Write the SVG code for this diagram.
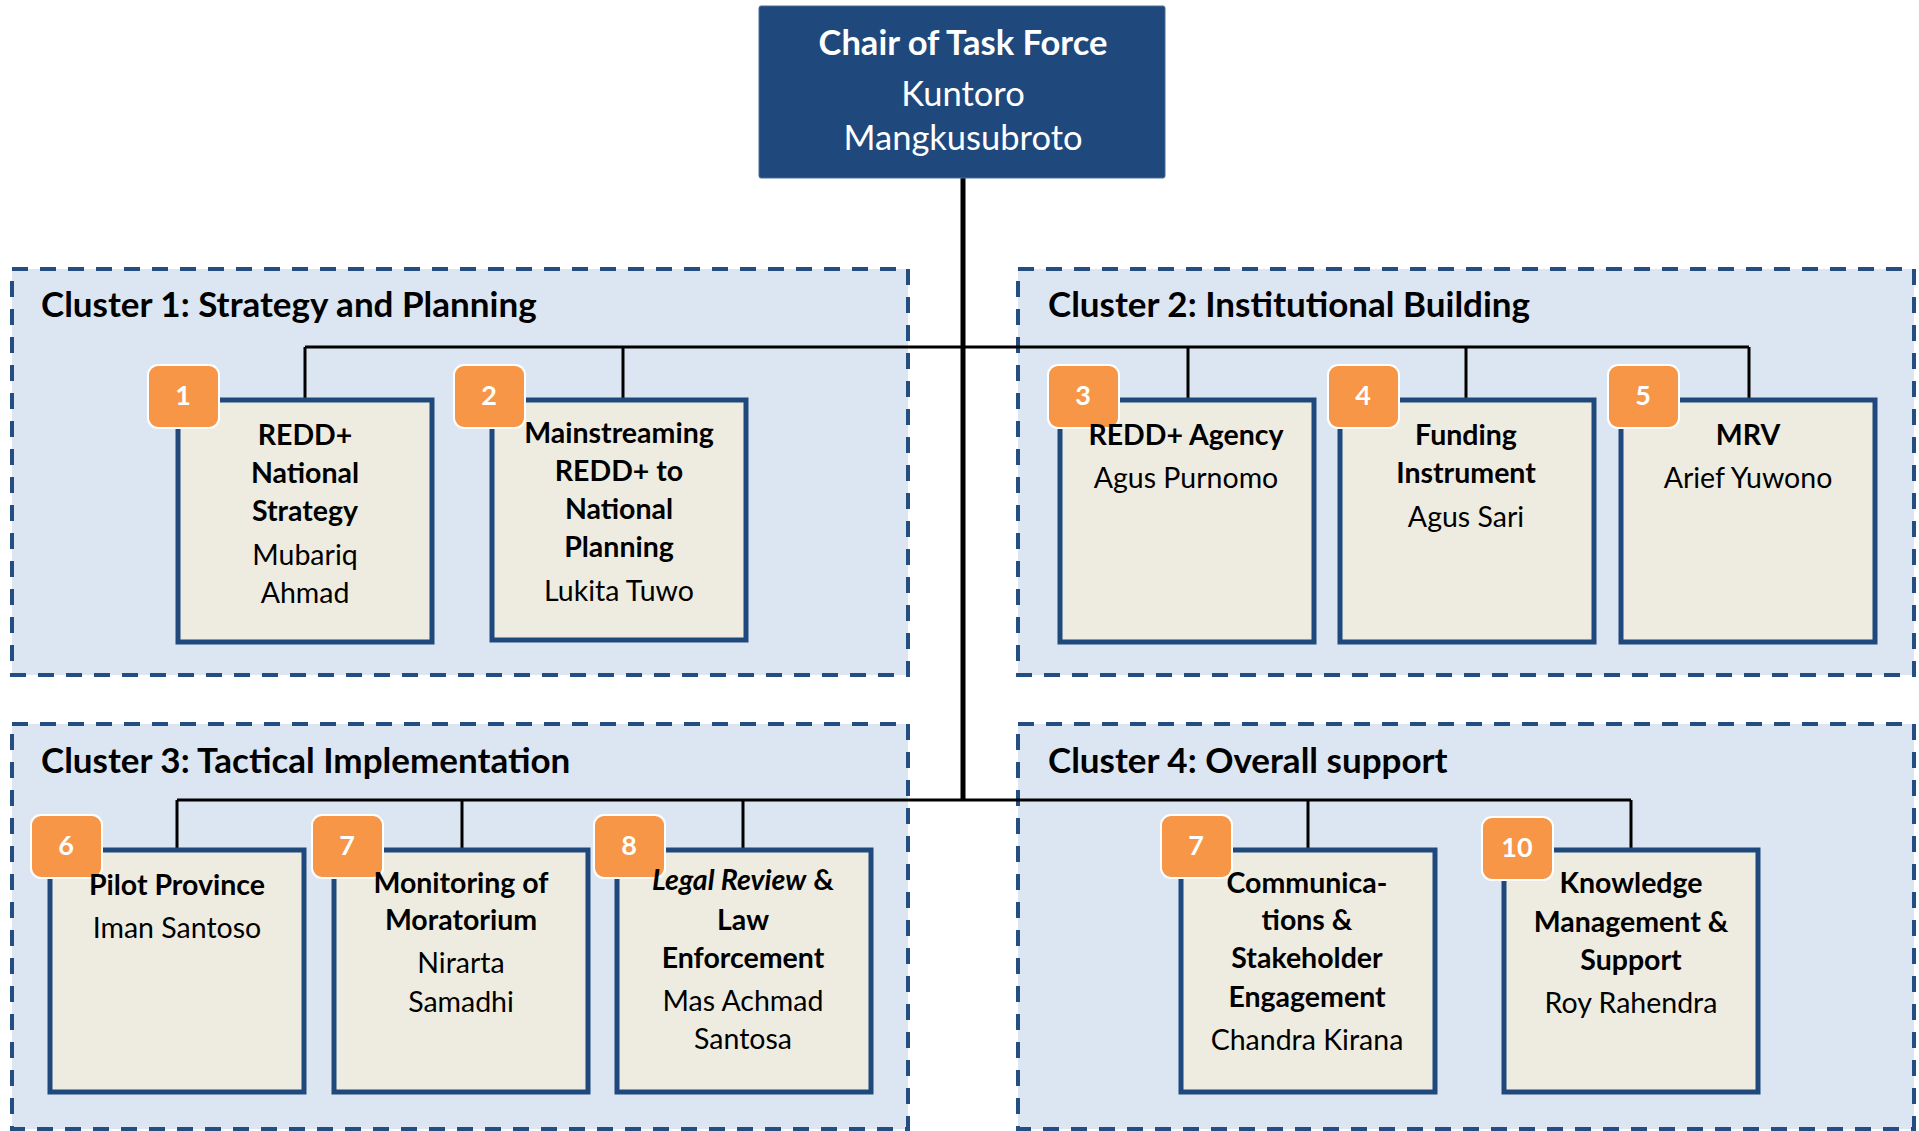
<svg xmlns="http://www.w3.org/2000/svg" width="1919" height="1131" viewBox="0 0 1919 1131">
<style>
.cluster{fill:#DCE6F2;stroke:#244E82;stroke-width:4;stroke-dasharray:16 12}
.ctitle{font-family:Lato,"Liberation Sans",sans-serif;font-weight:bold;font-size:35px;fill:#000}
.box{fill:#EEECE1;stroke:#1F497D;stroke-width:5}
.badge{fill:#F79646;stroke:#FFFFFF;stroke-width:2}
.num{font-family:Lato,"Liberation Sans",sans-serif;font-weight:bold;font-size:27px;fill:#FFFFFF;text-anchor:middle}
.b{font-family:Lato,"Liberation Sans",sans-serif;font-weight:bold;font-size:28.5px;fill:#000;text-anchor:middle}
.r{font-family:Lato,"Liberation Sans",sans-serif;font-size:28.5px;fill:#000;text-anchor:middle}
.thin{stroke:#000;stroke-width:3;fill:none}
.thick{stroke:#000;stroke-width:5;fill:none}
.chair{font-family:Lato,"Liberation Sans",sans-serif;font-size:34.5px;fill:#FFFFFF;text-anchor:middle}
</style>
<rect width="1919" height="1131" fill="#FFFFFF"/>
<g id="clusters">
<rect class="cluster" x="12" y="269" width="896" height="406"/>
<rect class="cluster" x="1018" y="269" width="896" height="406"/>
<rect class="cluster" x="12" y="724" width="896" height="405"/>
<rect class="cluster" x="1018" y="724" width="896" height="405"/>
<text class="ctitle" x="41" y="317">Cluster 1: Strategy and Planning</text>
<text class="ctitle" x="1048" y="317">Cluster 2: Institutional Building</text>
<text class="ctitle" x="41" y="773">Cluster 3: Tactical Implementation</text>
<text class="ctitle" x="1048" y="773">Cluster 4: Overall support</text>
</g>
<g id="connectors">
<path class="thick" d="M963 178V800"/>
<path class="thin" d="M305 347H1749M305 347V400M623 347V400M1188 347V405M1466 347V400M1749 347V405"/>
<path class="thin" d="M177 800H1631M177 800V850M462 800V850M743 800V850M1308 800V850M1631 800V850"/>
</g>
<g id="chair">
<rect x="759" y="6" width="406" height="172" rx="2" fill="#1F497D" stroke="#4A6D99" stroke-width="1"/>
<text class="chair" x="963" y="55" font-weight="bold">Chair of Task Force</text>
<text class="chair" x="963" y="106">Kuntoro</text>
<text class="chair" x="963" y="150">Mangkusubroto</text>
</g>
<g id="node1">
<rect class="box" x="178" y="400" width="254" height="242"/>
<rect class="badge" x="148" y="365" width="71" height="63" rx="10"/>
<text class="num" x="183" y="405">1</text>
<text class="b" x="305" y="445">REDD+</text>
<text class="b" x="305" y="483">National</text>
<text class="b" x="305" y="521">Strategy</text>
<text class="r" x="305" y="565">Mubariq</text>
<text class="r" x="305" y="603">Ahmad</text>
</g>
<g id="node2">
<rect class="box" x="492" y="400" width="254" height="240"/>
<rect class="badge" x="454" y="365" width="71" height="63" rx="10"/>
<text class="num" x="489" y="405">2</text>
<text class="b" x="619" y="443">Mainstreaming</text>
<text class="b" x="619" y="481">REDD+ to</text>
<text class="b" x="619" y="519">National</text>
<text class="b" x="619" y="557">Planning</text>
<text class="r" x="619" y="601">Lukita Tuwo</text>
</g>
<g id="node3">
<rect class="box" x="1060" y="400" width="254" height="242"/>
<rect class="badge" x="1048" y="365" width="71" height="63" rx="10"/>
<text class="num" x="1083" y="405">3</text>
<text class="b" x="1186" y="445">REDD+ Agency</text>
<text class="r" x="1186" y="488">Agus Purnomo</text>
</g>
<g id="node4">
<rect class="box" x="1340" y="400" width="254" height="242"/>
<rect class="badge" x="1328" y="365" width="71" height="63" rx="10"/>
<text class="num" x="1363" y="405">4</text>
<text class="b" x="1466" y="445">Funding</text>
<text class="b" x="1466" y="483">Instrument</text>
<text class="r" x="1466" y="527">Agus Sari</text>
</g>
<g id="node5">
<rect class="box" x="1621" y="400" width="254" height="242"/>
<rect class="badge" x="1608" y="365" width="71" height="63" rx="10"/>
<text class="num" x="1643" y="405">5</text>
<text class="b" x="1748" y="445">MRV</text>
<text class="r" x="1748" y="488">Arief Yuwono</text>
</g>
<g id="node6">
<rect class="box" x="50" y="850" width="254" height="242"/>
<rect class="badge" x="31" y="815" width="71" height="63" rx="10"/>
<text class="num" x="66" y="855">6</text>
<text class="b" x="177" y="895">Pilot Province</text>
<text class="r" x="177" y="938">Iman Santoso</text>
</g>
<g id="node7">
<rect class="box" x="334" y="850" width="254" height="242"/>
<rect class="badge" x="312" y="815" width="71" height="63" rx="10"/>
<text class="num" x="347" y="855">7</text>
<text class="b" x="461" y="893">Monitoring of</text>
<text class="b" x="461" y="930">Moratorium</text>
<text class="r" x="461" y="973">Nirarta</text>
<text class="r" x="461" y="1012">Samadhi</text>
</g>
<g id="node8">
<rect class="box" x="617" y="850" width="254" height="242"/>
<rect class="badge" x="594" y="815" width="71" height="63" rx="10"/>
<text class="num" x="629" y="855">8</text>
<text class="b" x="743" y="890"><tspan font-style="italic">Legal Review</tspan> &amp;</text>
<text class="b" x="743" y="930">Law</text>
<text class="b" x="743" y="968">Enforcement</text>
<text class="r" x="743" y="1011">Mas Achmad</text>
<text class="r" x="743" y="1049">Santosa</text>
</g>
<g id="node9">
<rect class="box" x="1181" y="850" width="254" height="242"/>
<rect class="badge" x="1161" y="815" width="71" height="63" rx="10"/>
<text class="num" x="1196" y="855">7</text>
<text class="b" x="1307" y="893">Communica-</text>
<text class="b" x="1307" y="930">tions &amp;</text>
<text class="b" x="1307" y="968">Stakeholder</text>
<text class="b" x="1307" y="1007">Engagement</text>
<text class="r" x="1307" y="1050">Chandra Kirana</text>
</g>
<g id="node10">
<rect class="box" x="1504" y="850" width="254" height="242"/>
<rect class="badge" x="1482" y="817" width="71" height="63" rx="10"/>
<text class="num" x="1517" y="857">10</text>
<text class="b" x="1631" y="893">Knowledge</text>
<text class="b" x="1631" y="932">Management &amp;</text>
<text class="b" x="1631" y="970">Support</text>
<text class="r" x="1631" y="1013">Roy Rahendra</text>
</g>
</svg>
